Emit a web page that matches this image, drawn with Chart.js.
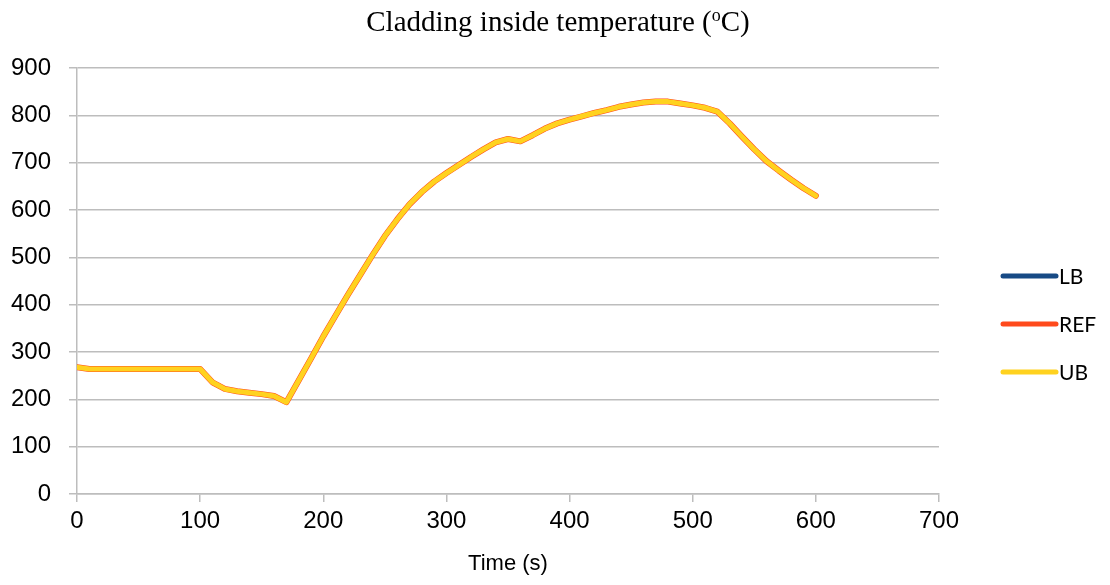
<!DOCTYPE html>
<html>
<head>
<meta charset="utf-8">
<script src="https://cdn.jsdelivr.net/npm/chart.js@4.4.1/dist/chart.umd.min.js"></script>
<style>
  html, body { margin: 0; padding: 0; background: #fff; }
  #wrap { width: 1110px; height: 585px; position: relative; }
</style>
</head>
<body>
<div id="wrap"><canvas id="chart" width="1110" height="585"></canvas></div>
<script>
// ── data ──
const timeS = [0, 10, 20, 30, 40, 50, 60, 70, 80, 90, 100, 110, 120, 130, 140, 150, 160, 170,
  180, 190, 200, 210, 220, 230, 240, 250, 260, 270, 280, 290, 300, 310, 320, 330, 340, 350,
  360, 370, 380, 390, 400, 410, 420, 430, 440, 450, 460, 470, 480, 490, 500, 510, 520, 530,
  540, 550, 560, 570, 580, 590, 600];
const refTemp = [268, 264, 264, 264, 264, 264, 264, 264, 264, 264, 264, 236, 222, 217, 214, 211, 207, 194,
  240, 286, 333, 377, 421, 463, 505, 545, 580, 612, 638, 660, 678, 695, 712, 728, 743, 750,
  745, 758, 772, 783, 791, 798, 805, 811, 818, 823, 827, 829, 829, 825, 821, 816, 808, 783,
  755, 728, 703, 683, 664, 646, 630];
// bounds lie on top of the reference curve in the picture
const lbTemp = refTemp.slice();
const ubTemp = refTemp.slice();
const seriesNames = ['LB', 'REF', 'UB'];
const seriesColors = ['#174a85', '#ff4a1c', '#ffd21f'];
const xTicks = [0, 100, 200, 300, 400, 500, 600, 700];
const yTicks = [0, 100, 200, 300, 400, 500, 600, 700, 800, 900];

const GRID = '#bdbdbd';
const SANS = '"Liberation Sans", Arial, sans-serif';
const pts = arr => arr.map((v, i) => ({ x: timeS[i], y: v }));

// title with superscript "o"
const titlePlugin = {
  id: 'supTitle',
  afterDraw(chart) {
    const ctx = chart.ctx;
    const main = '29px "Liberation Serif", "Times New Roman", serif';
    const sup = '18px "Liberation Serif", "Times New Roman", serif';
    const a = 'Cladding inside temperature (', b = 'o', c = 'C)';
    ctx.save();
    ctx.fillStyle = '#000';
    ctx.textBaseline = 'alphabetic';
    ctx.font = main;
    const wa = ctx.measureText(a).width, wc = ctx.measureText(c).width;
    ctx.font = sup;
    const wb = ctx.measureText(b).width;
    let x = 558 - (wa + wb + wc) / 2;
    const y = 31;
    ctx.font = main; ctx.fillText(a, x, y); x += wa;
    ctx.font = sup; ctx.fillText(b, x, y - 10); x += wb;
    ctx.font = main; ctx.fillText(c, x, y);
    ctx.restore();
  }
};

// legend on the right: line sample + label
const legendPlugin = {
  id: 'sideLegend',
  afterDraw(chart) {
    const ctx = chart.ctx;
    ctx.save();
    ctx.font = '21px Lato, "Open Sans", sans-serif';
    ctx.textBaseline = 'middle';
    seriesNames.forEach((name, i) => {
      const y = 276 + i * 48;
      ctx.strokeStyle = seriesColors[i];
      ctx.lineWidth = 5;
      ctx.lineCap = 'round';
      ctx.beginPath();
      ctx.moveTo(1003, y);
      ctx.lineTo(1056, y);
      ctx.stroke();
      ctx.fillStyle = '#000';
      ctx.fillText(name, 1059, y + 1);
    });
    ctx.restore();
  }
};

new Chart(document.getElementById('chart'), {
  type: 'line',
  data: {
    datasets: [
      { label: seriesNames[2], data: pts(ubTemp), borderColor: seriesColors[2], borderWidth: 5, order: 0 },
      { label: seriesNames[1], data: pts(refTemp), borderColor: seriesColors[1], borderWidth: 6, order: 1 },
      { label: seriesNames[0], data: pts(lbTemp), borderColor: seriesColors[0], borderWidth: 4, order: 2 },
    ].map(d => Object.assign(d, { pointRadius: 0, tension: 0, fill: false, borderJoinStyle: 'round', borderCapStyle: 'round' })),
  },
  options: {
    responsive: false,
    animation: false,
    layout: { padding: { top: 68, right: 171, left: 0, bottom: 0 } },
    plugins: { legend: { display: false }, title: { display: false }, tooltip: { enabled: false } },
    scales: {
      x: {
        type: 'linear', min: 0, max: 700,
        afterBuildTicks: s => { s.ticks = xTicks.map(v => ({ value: v })); },
        afterFit: s => { s.height = 91; },
        grid: { drawOnChartArea: false, color: GRID, tickColor: GRID, tickLength: 8, lineWidth: 1.5 },
        border: { color: GRID, width: 1.5 },
        ticks: { color: '#000', font: { family: SANS, size: 24 }, padding: 5, maxRotation: 0 },
        title: { display: true, text: 'Time (s)', color: '#000', font: { family: SANS, size: 22 }, padding: { top: 0, bottom: 8 } },
      },
      y: {
        min: 0, max: 900,
        afterBuildTicks: s => { s.ticks = yTicks.map(v => ({ value: v })); },
        afterFit: s => { s.width = 77; },
        grid: { color: GRID, tickColor: GRID, tickLength: 8, lineWidth: 1.5 },
        border: { color: GRID, width: 1.5 },
        ticks: { color: '#000', font: { family: SANS, size: 24 }, padding: 18 },
      },
    },
  },
  plugins: [titlePlugin, legendPlugin],
});
</script>
</body>
</html>
